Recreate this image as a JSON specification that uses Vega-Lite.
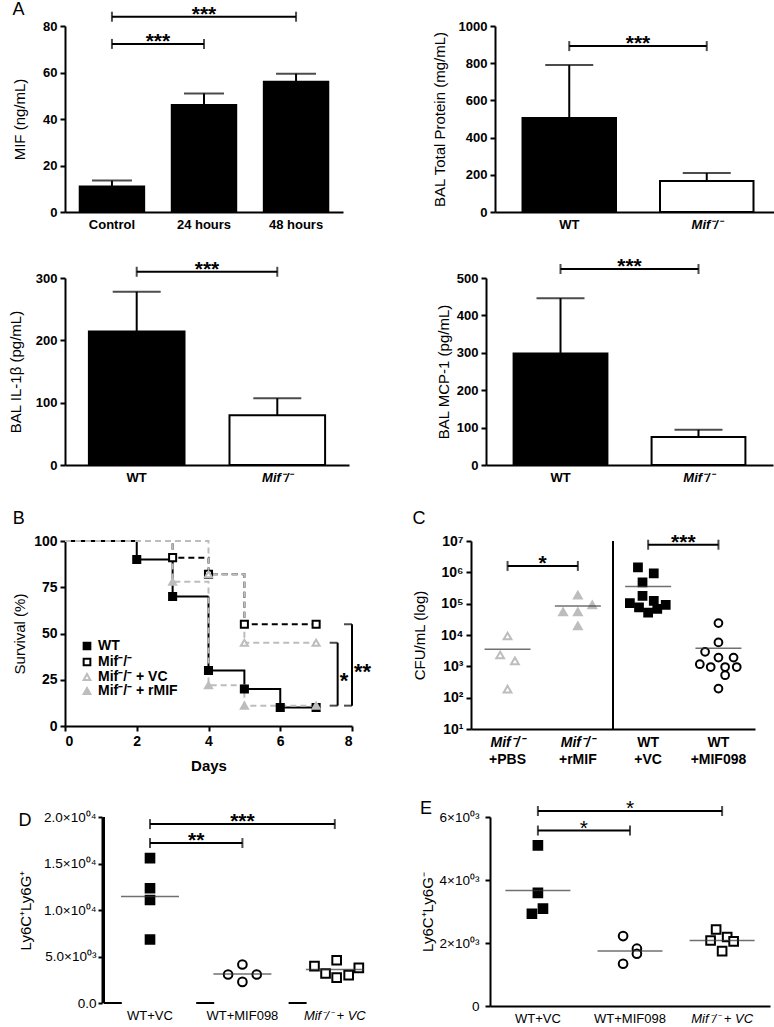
{
"$schema": "https://vega.github.io/schema/vega-lite/v6.json",
"background": "white",
"padding": {"left": 8, "top": 0, "right": 0, "bottom": 0},
"spacing": 25,
"resolve": {"scale": {"xOffset": "independent"}},
"config": {
  "font": "Liberation Sans",
  "view": {"stroke": null},
  "axis": {"domainColor": "black", "domainWidth": 2, "tickColor": "black", "tickWidth": 2, "tickSize": 5, "labelColor": "black", "titleColor": "black", "grid": false, "labelFontWeight": "bold", "labelFontSize": 13, "titleFontSize": 15, "titleFontWeight": "normal", "labelPadding": 3, "titlePadding": 8, "labelOverlap": false},
  "axisX": {"ticks": false, "labelAngle": 0, "labelPadding": 6},
  "title": {"fontSize": 18, "fontWeight": "normal", "anchor": "start", "color": "black"}
},
"vconcat": [
{"spacing": 89, "resolve": {"scale": {"xOffset": "independent"}}, "hconcat": [
 {"title": {"text": "A", "offset": -15},
  "width": 278, "height": 186,
  "layer": [
   {"data": {"values": [{"condition": "Control", "mean": 11, "upper": 13.5}, {"condition": "24 hours", "mean": 46, "upper": 51}, {"condition": "48 hours", "mean": 56, "upper": 59.5}]},
    "encoding": {"x": {"field": "condition", "type": "nominal", "scale": {"domain": ["Control", "24 hours", "48 hours"], "paddingInner": 0.3, "paddingOuter": 0.16}, "axis": {"title": null}}},
    "layer": [
     {"mark": {"type": "rule", "color": "black", "strokeWidth": 2}, "encoding": {"y": {"field": "mean", "type": "quantitative", "scale": {"domain": [0, 80], "nice": false}, "axis": {"title": "MIF (ng/mL)", "values": [0, 20, 40, 60, 80], "titlePadding": 15, "labelOverlap": false}}, "y2": {"field": "upper"}}},
     {"mark": {"type": "tick", "orient": "horizontal", "size": 40, "thickness": 2, "color": "black"}, "encoding": {"y": {"field": "upper", "type": "quantitative", "axis": {"title": "MIF (ng/mL)", "values": [0, 20, 40, 60, 80], "titlePadding": 15, "labelOverlap": false}}}},
     {"mark": {"type": "bar", "fill": "black", "stroke": "black", "strokeWidth": 2}, "encoding": {"y": {"field": "mean", "type": "quantitative", "axis": {"title": "MIF (ng/mL)", "values": [0, 20, 40, 60, 80], "titlePadding": 15, "labelOverlap": false}}}}
    ]},
   {"data": {"values": [{"from": "Control", "to": "48 hours", "y": 84, "label": "***", "span": 2}, {"from": "Control", "to": "24 hours", "y": 72.3, "label": "***", "span": 1}]},
    "encoding": {"y": {"field": "y", "type": "quantitative", "axis": {"title": "MIF (ng/mL)", "values": [0, 20, 40, 60, 80], "titlePadding": 15, "labelOverlap": false}}},
    "layer": [
     {"mark": {"type": "rule", "color": "black", "strokeWidth": 2}, "encoding": {"x": {"field": "from", "type": "nominal"}, "x2": {"field": "to"}}},
     {"transform": [{"fold": ["from", "to"], "as": ["end", "cat"]}], "mark": {"type": "tick", "orient": "vertical", "size": 10, "thickness": 2, "color": "black"}, "encoding": {"x": {"field": "cat", "type": "nominal"}}},
     {"transform": [{"filter": "datum.span == 1"}], "mark": {"type": "text", "fontSize": 21, "fontWeight": "bold", "baseline": "alphabetic", "dy": 4}, "encoding": {"x": {"field": "from", "type": "nominal", "bandPosition": 1.214}, "text": {"field": "label"}}},
     {"transform": [{"filter": "datum.span == 2"}], "mark": {"type": "text", "fontSize": 21, "fontWeight": "bold", "baseline": "alphabetic", "dy": 4}, "encoding": {"x": {"field": "from", "type": "nominal", "bandPosition": 1.929}, "text": {"field": "label"}}}
    ]}
  ]},
 {"width": 286, "height": 186,
  "layer": [
   {"data": {"values": [{"g": "WT", "mean": 505, "upper": 790}, {"g": "Mif⁻/⁻", "mean": 167, "upper": 210}]},
    "encoding": {"x": {"field": "g", "type": "nominal", "scale": {"domain": ["WT", "Mif⁻/⁻"], "paddingInner": 0.32, "paddingOuter": 0.2}, "axis": {"title": null, "labelFontStyle": {"condition": {"test": "indexof(datum.value, 'Mif') >= 0", "value": "italic"}, "value": "normal"}}}},
    "layer": [
     {"mark": {"type": "rule", "color": "black", "strokeWidth": 2}, "encoding": {"y": {"field": "mean", "type": "quantitative", "scale": {"domain": [0, 1000], "nice": false}, "axis": {"title": "BAL Total Protein (mg/mL)", "values": [0, 200, 400, 600, 800, 1000], "format": "d", "titlePadding": 11, "labelOverlap": false}}, "y2": {"field": "upper"}}},
     {"mark": {"type": "tick", "orient": "horizontal", "size": 48, "thickness": 2, "color": "black"}, "encoding": {"y": {"field": "upper", "type": "quantitative", "axis": {"title": "BAL Total Protein (mg/mL)", "values": [0, 200, 400, 600, 800, 1000], "format": "d", "titlePadding": 11, "labelOverlap": false}}}},
     {"mark": {"type": "bar", "stroke": "black", "strokeWidth": 2}, "encoding": {"y": {"field": "mean", "type": "quantitative", "axis": {"title": "BAL Total Protein (mg/mL)", "values": [0, 200, 400, 600, 800, 1000], "format": "d", "titlePadding": 11, "labelOverlap": false}}, "fill": {"condition": {"test": "datum.g == 'WT'", "value": "black"}, "value": "white"}}}
    ]},
   {"data": {"values": [{"from": "WT", "to": "Mif⁻/⁻", "y": 892, "label": "***"}]},
    "encoding": {"y": {"field": "y", "type": "quantitative", "axis": {"title": "BAL Total Protein (mg/mL)", "values": [0, 200, 400, 600, 800, 1000], "format": "d", "titlePadding": 11, "labelOverlap": false}}},
    "layer": [
     {"mark": {"type": "rule", "color": "black", "strokeWidth": 2}, "encoding": {"x": {"field": "from", "type": "nominal"}, "x2": {"field": "to"}}},
     {"transform": [{"fold": ["from", "to"], "as": ["end", "cat"]}], "mark": {"type": "tick", "orient": "vertical", "size": 10, "thickness": 2, "color": "black"}, "encoding": {"x": {"field": "cat", "type": "nominal"}}},
     {"mark": {"type": "text", "fontSize": 21, "fontWeight": "bold", "baseline": "alphabetic", "dy": 4}, "encoding": {"x": {"field": "from", "type": "nominal", "bandPosition": 1.235}, "text": {"field": "label"}}}
    ]}
  ]}
]},
{"spacing": 87, "resolve": {"scale": {"xOffset": "independent"}}, "hconcat": [
 {"width": 284, "height": 187,
  "layer": [
   {"data": {"values": [{"g": "WT", "mean": 214, "upper": 278}, {"g": "Mif⁻/⁻", "mean": 80, "upper": 107}]},
    "encoding": {"x": {"field": "g", "type": "nominal", "scale": {"domain": ["WT", "Mif⁻/⁻"], "paddingInner": 0.32, "paddingOuter": 0.17}, "axis": {"title": null, "labelFontStyle": {"condition": {"test": "indexof(datum.value, 'Mif') >= 0", "value": "italic"}, "value": "normal"}}}},
    "layer": [
     {"mark": {"type": "rule", "color": "black", "strokeWidth": 2}, "encoding": {"y": {"field": "mean", "type": "quantitative", "scale": {"domain": [0, 300], "nice": false}, "axis": {"title": "BAL IL-1β (pg/mL)", "values": [0, 100, 200, 300], "titlePadding": 12, "labelOverlap": false}}, "y2": {"field": "upper"}}},
     {"mark": {"type": "tick", "orient": "horizontal", "size": 48, "thickness": 2, "color": "black"}, "encoding": {"y": {"field": "upper", "type": "quantitative", "axis": {"title": "BAL IL-1β (pg/mL)", "values": [0, 100, 200, 300], "titlePadding": 12, "labelOverlap": false}}}},
     {"mark": {"type": "bar", "stroke": "black", "strokeWidth": 2}, "encoding": {"y": {"field": "mean", "type": "quantitative", "axis": {"title": "BAL IL-1β (pg/mL)", "values": [0, 100, 200, 300], "titlePadding": 12, "labelOverlap": false}}, "fill": {"condition": {"test": "datum.g == 'WT'", "value": "black"}, "value": "white"}}}
    ]},
   {"data": {"values": [{"from": "WT", "to": "Mif⁻/⁻", "y": 310, "label": "***"}]},
    "encoding": {"y": {"field": "y", "type": "quantitative", "axis": {"title": "BAL IL-1β (pg/mL)", "values": [0, 100, 200, 300], "titlePadding": 12, "labelOverlap": false}}},
    "layer": [
     {"mark": {"type": "rule", "color": "black", "strokeWidth": 2}, "encoding": {"x": {"field": "from", "type": "nominal"}, "x2": {"field": "to"}}},
     {"transform": [{"fold": ["from", "to"], "as": ["end", "cat"]}], "mark": {"type": "tick", "orient": "vertical", "size": 10, "thickness": 2, "color": "black"}, "encoding": {"x": {"field": "cat", "type": "nominal"}}},
     {"mark": {"type": "text", "fontSize": 21, "fontWeight": "bold", "baseline": "alphabetic", "dy": 4}, "encoding": {"x": {"field": "from", "type": "nominal", "bandPosition": 1.235}, "text": {"field": "label"}}}
    ]}
  ]},
 {"width": 287, "height": 187,
  "layer": [
   {"data": {"values": [{"g": "WT", "mean": 298, "upper": 446}, {"g": "Mif⁻/⁻", "mean": 75, "upper": 94}]},
    "encoding": {"x": {"field": "g", "type": "nominal", "scale": {"domain": ["WT", "Mif⁻/⁻"], "paddingInner": 0.32, "paddingOuter": 0.2}, "axis": {"title": null, "labelFontStyle": {"condition": {"test": "indexof(datum.value, 'Mif') >= 0", "value": "italic"}, "value": "normal"}}}},
    "layer": [
     {"mark": {"type": "rule", "color": "black", "strokeWidth": 2}, "encoding": {"y": {"field": "mean", "type": "quantitative", "scale": {"domain": [0, 500], "nice": false}, "axis": {"title": "BAL MCP-1 (pg/mL)", "values": [0, 100, 200, 300, 400, 500], "titlePadding": 5, "labelOverlap": false}}, "y2": {"field": "upper"}}},
     {"mark": {"type": "tick", "orient": "horizontal", "size": 48, "thickness": 2, "color": "black"}, "encoding": {"y": {"field": "upper", "type": "quantitative", "axis": {"title": "BAL MCP-1 (pg/mL)", "values": [0, 100, 200, 300, 400, 500], "titlePadding": 5, "labelOverlap": false}}}},
     {"mark": {"type": "bar", "stroke": "black", "strokeWidth": 2}, "encoding": {"y": {"field": "mean", "type": "quantitative", "axis": {"title": "BAL MCP-1 (pg/mL)", "values": [0, 100, 200, 300, 400, 500], "titlePadding": 5, "labelOverlap": false}}, "fill": {"condition": {"test": "datum.g == 'WT'", "value": "black"}, "value": "white"}}}
    ]},
   {"data": {"values": [{"from": "WT", "to": "Mif⁻/⁻", "y": 524, "label": "***"}]},
    "encoding": {"y": {"field": "y", "type": "quantitative", "axis": {"title": "BAL MCP-1 (pg/mL)", "values": [0, 100, 200, 300, 400, 500], "titlePadding": 5, "labelOverlap": false}}},
    "layer": [
     {"mark": {"type": "rule", "color": "black", "strokeWidth": 2}, "encoding": {"x": {"field": "from", "type": "nominal"}, "x2": {"field": "to"}}},
     {"transform": [{"fold": ["from", "to"], "as": ["end", "cat"]}], "mark": {"type": "tick", "orient": "vertical", "size": 10, "thickness": 2, "color": "black"}, "encoding": {"x": {"field": "cat", "type": "nominal"}}},
     {"mark": {"type": "text", "fontSize": 21, "fontWeight": "bold", "baseline": "alphabetic", "dy": 4}, "encoding": {"x": {"field": "from", "type": "nominal", "bandPosition": 1.235}, "text": {"field": "label"}}}
    ]}
  ]}
]},
{"spacing": 40, "resolve": {"scale": {"xOffset": "independent"}}, "hconcat": [
 {"title": {"text": "B", "offset": 6},
  "width": 287, "height": 185,
  "layer": [
   {"data": {"values": [
     {"s": "WT", "day": 0, "surv": 100}, {"s": "WT", "day": 2, "surv": 90}, {"s": "WT", "day": 3, "surv": 70}, {"s": "WT", "day": 4, "surv": 30}, {"s": "WT", "day": 5, "surv": 20}, {"s": "WT", "day": 6, "surv": 10}, {"s": "WT", "day": 7, "surv": 10},
     {"s": "Mif⁻/⁻", "day": 0, "surv": 100}, {"s": "Mif⁻/⁻", "day": 3, "surv": 91}, {"s": "Mif⁻/⁻", "day": 4, "surv": 82}, {"s": "Mif⁻/⁻", "day": 5, "surv": 55}, {"s": "Mif⁻/⁻", "day": 7, "surv": 55},
     {"s": "Mif⁻/⁻ + VC", "day": 0, "surv": 100}, {"s": "Mif⁻/⁻ + VC", "day": 4, "surv": 82}, {"s": "Mif⁻/⁻ + VC", "day": 5, "surv": 45}, {"s": "Mif⁻/⁻ + VC", "day": 7, "surv": 45},
     {"s": "Mif⁻/⁻ + rMIF", "day": 0, "surv": 100}, {"s": "Mif⁻/⁻ + rMIF", "day": 3, "surv": 78}, {"s": "Mif⁻/⁻ + rMIF", "day": 4, "surv": 22}, {"s": "Mif⁻/⁻ + rMIF", "day": 5, "surv": 11}, {"s": "Mif⁻/⁻ + rMIF", "day": 7, "surv": 11}
    ]},
    "layer": [
     {"mark": {"type": "line", "interpolate": "step-after", "strokeWidth": 2},
      "encoding": {
       "x": {"field": "day", "type": "quantitative", "scale": {"domain": [0, 8], "nice": false}, "axis": {"title": "Days", "titleFontWeight": "bold", "titleFontSize": 15, "titlePadding": 10, "values": [0, 2, 4, 6, 8], "ticks": true, "labelPadding": 3, "labelFontSize": 14}},
       "y": {"field": "surv", "type": "quantitative", "scale": {"domain": [0, 100], "nice": false}, "axis": {"title": "Survival (%)", "values": [0, 25, 50, 75, 100], "titlePadding": 6, "labelFontSize": 14}},
       "detail": {"field": "s", "type": "nominal"},
       "stroke": {"condition": {"test": "datum.s == 'WT' || datum.s == 'Mif⁻/⁻'", "value": "black"}, "value": "#bdbdbd"},
       "strokeDash": {"condition": {"test": "datum.s == 'WT'", "value": [1, 0]}, "value": [6, 4]}
      }},
     {"transform": [{"filter": "datum.day > 0"}],
      "mark": {"type": "point", "filled": true, "size": 50, "strokeWidth": 2, "opacity": 1},
      "encoding": {
       "x": {"field": "day", "type": "quantitative"},
       "y": {"field": "surv", "type": "quantitative"},
       "shape": {"field": "s", "type": "nominal", "scale": {"domain": ["WT", "Mif⁻/⁻", "Mif⁻/⁻ + VC", "Mif⁻/⁻ + rMIF"], "range": ["square", "square", "triangle-up", "triangle-up"]}, "legend": {"title": null, "orient": "none", "legendX": 15, "legendY": 613, "labelFontSize": 14, "labelFontWeight": "bold", "symbolStrokeWidth": 2, "symbolSize": 45, "rowPadding": 0, "labelColor": "black"}},
       "fill": {"field": "s", "type": "nominal", "scale": {"domain": ["WT", "Mif⁻/⁻", "Mif⁻/⁻ + VC", "Mif⁻/⁻ + rMIF"], "range": ["black", "white", "white", "#bdbdbd"]}, "legend": {"title": null, "orient": "none", "legendX": 15, "legendY": 613, "labelFontSize": 14, "labelFontWeight": "bold", "symbolStrokeWidth": 2, "symbolSize": 45, "rowPadding": 0, "labelColor": "black"}},
       "stroke": {"field": "s", "type": "nominal", "scale": {"domain": ["WT", "Mif⁻/⁻", "Mif⁻/⁻ + VC", "Mif⁻/⁻ + rMIF"], "range": ["black", "black", "#bdbdbd", "#bdbdbd"]}, "legend": {"title": null, "orient": "none", "legendX": 15, "legendY": 613, "labelFontSize": 14, "labelFontWeight": "bold", "symbolStrokeWidth": 2, "symbolSize": 45, "rowPadding": 0, "labelColor": "black"}}
      }}
    ]},
   {"data": {"values": [{"x": 7.6, "top": 45, "bottom": 11, "label": "*"}, {"x": 8.0, "top": 55, "bottom": 11, "label": "**"}]},
    "layer": [
     {"mark": {"type": "rule", "color": "black", "strokeWidth": 2}, "encoding": {"x": {"field": "x", "type": "quantitative"}, "y": {"field": "top", "type": "quantitative"}, "y2": {"field": "bottom"}}},
     {"transform": [{"fold": ["top", "bottom"], "as": ["end", "yv"]}], "mark": {"type": "tick", "orient": "horizontal", "size": 8, "thickness": 2, "color": "black", "xOffset": -4}, "encoding": {"x": {"field": "x", "type": "quantitative"}, "y": {"field": "yv", "type": "quantitative"}}},
     {"transform": [{"calculate": "(datum.top + datum.bottom) / 2", "as": "mid"}], "mark": {"type": "text", "fontSize": 22, "fontWeight": "bold", "align": "left", "baseline": "middle", "dx": 2, "dy": 7}, "encoding": {"x": {"field": "x", "type": "quantitative"}, "y": {"field": "mid", "type": "quantitative"}, "text": {"field": "label"}}}
    ]}
  ]},
 {"title": {"text": "C", "offset": 4},
  "width": 284, "height": 188,
  "layer": [
   {"layer": [
     {"data": {"values": [
       {"cat": "PBS", "cfu": 9300, "jitter": 0}, {"cat": "PBS", "cfu": 2300, "jitter": -0.21}, {"cat": "PBS", "cfu": 1500, "jitter": 0.21}, {"cat": "PBS", "cfu": 186, "jitter": 0},
       {"cat": "rMIF", "cfu": 186000, "jitter": 0}, {"cat": "rMIF", "cfu": 55000, "jitter": -0.42}, {"cat": "rMIF", "cfu": 55000, "jitter": 0}, {"cat": "rMIF", "cfu": 91000, "jitter": 0.41}, {"cat": "rMIF", "cfu": 19500, "jitter": 0},
       {"cat": "VC", "cfu": 1450000, "jitter": -0.29}, {"cat": "VC", "cfu": 930000, "jitter": 0.16}, {"cat": "VC", "cfu": 480000, "jitter": -0.16}, {"cat": "VC", "cfu": 178000, "jitter": -0.16}, {"cat": "VC", "cfu": 105000, "jitter": -0.52}, {"cat": "VC", "cfu": 76000, "jitter": -0.26}, {"cat": "VC", "cfu": 123000, "jitter": 0.16}, {"cat": "VC", "cfu": 91000, "jitter": 0.5}, {"cat": "VC", "cfu": 52000, "jitter": 0}, {"cat": "VC", "cfu": 68000, "jitter": 0.26},
       {"cat": "MIF098", "cfu": 24000, "jitter": 0}, {"cat": "MIF098", "cfu": 5800, "jitter": 0}, {"cat": "MIF098", "cfu": 2900, "jitter": -0.38}, {"cat": "MIF098", "cfu": 1900, "jitter": 0}, {"cat": "MIF098", "cfu": 1900, "jitter": 0.43}, {"cat": "MIF098", "cfu": 1170, "jitter": -0.53}, {"cat": "MIF098", "cfu": 950, "jitter": -0.22}, {"cat": "MIF098", "cfu": 950, "jitter": 0.19}, {"cat": "MIF098", "cfu": 950, "jitter": 0.52}, {"cat": "MIF098", "cfu": 520, "jitter": 0.19}, {"cat": "MIF098", "cfu": 195, "jitter": 0}
      ]},
      "mark": {"type": "point", "filled": true, "size": 60, "strokeWidth": 2, "opacity": 1},
      "encoding": {
       "x": {"field": "cat", "type": "nominal", "scale": {"domain": ["PBS", "rMIF", "VC", "MIF098"], "paddingInner": 0, "paddingOuter": 0.02}, "axis": {"title": null, "labelExpr": "datum.value == 'PBS' || datum.value == 'rMIF' ? 'Mif⁻/⁻' : 'WT'", "labelFontStyle": {"condition": {"test": "datum.value == 'PBS' || datum.value == 'rMIF'", "value": "italic"}, "value": "normal"}, "labelFontSize": 14}},
       "xOffset": {"field": "jitter", "type": "quantitative", "scale": {"domain": [-1, 1]}},
       "y": {"field": "cfu", "type": "quantitative", "scale": {"type": "log", "domain": [10, 10000000], "nice": false}, "axis": {"title": "CFU/mL (log)", "values": [10, 100, 1000, 10000, 100000, 1000000, 10000000], "labelExpr": "'10' + ['⁰','¹','²','³','⁴','⁵','⁶','⁷'][round(log(datum.value) / LN10)]", "labelFontSize": 14, "titlePadding": 13}},
       "shape": {"condition": [{"test": "datum.cat == 'VC'", "value": "square"}, {"test": "datum.cat == 'MIF098'", "value": "circle"}], "value": "triangle-up"},
       "fill": {"condition": [{"test": "datum.cat == 'rMIF'", "value": "#bdbdbd"}, {"test": "datum.cat == 'VC'", "value": "black"}], "value": "white"},
       "stroke": {"condition": [{"test": "datum.cat == 'PBS' || datum.cat == 'rMIF'", "value": "#bdbdbd"}], "value": "black"}
      }},
     {"data": {"values": [{"cat": "PBS", "mean": 3500}, {"cat": "rMIF", "mean": 85000}, {"cat": "VC", "mean": 350000}, {"cat": "MIF098", "mean": 3800}]},
      "mark": {"type": "tick", "orient": "horizontal", "size": 46, "thickness": 1.5, "color": "#333333"},
      "encoding": {"x": {"field": "cat", "type": "nominal"}, "y": {"field": "mean", "type": "quantitative"}}},
     {"data": {"values": [{"from": "PBS", "to": "rMIF", "y": 1600000, "label": "*"}, {"from": "VC", "to": "MIF098", "y": 7600000, "label": "***"}]},
      "layer": [
       {"mark": {"type": "rule", "color": "black", "strokeWidth": 2}, "encoding": {"x": {"field": "from", "type": "nominal"}, "x2": {"field": "to"}, "y": {"field": "y", "type": "quantitative"}}},
       {"transform": [{"fold": ["from", "to"], "as": ["end", "cat"]}], "mark": {"type": "tick", "orient": "vertical", "size": 10, "thickness": 2, "color": "black"}, "encoding": {"x": {"field": "cat", "type": "nominal"}, "y": {"field": "y", "type": "quantitative"}}},
       {"mark": {"type": "text", "fontSize": 21, "fontWeight": "bold", "baseline": "alphabetic", "dy": 4}, "encoding": {"x": {"field": "from", "type": "nominal", "bandPosition": 1.0}, "y": {"field": "y", "type": "quantitative"}, "text": {"field": "label"}}}
      ]}
    ]},
   {"data": {"values": [{"cat": "VC"}]},
    "mark": {"type": "rule", "color": "black", "strokeWidth": 2},
    "encoding": {"x": {"field": "cat", "type": "nominal", "bandPosition": 0, "axis": {"orient": "bottom", "title": null, "domain": false, "ticks": false, "labelPadding": 23, "labelExpr": "'+' + datum.value", "labelFontSize": 14}}}}
  ],
  "resolve": {"axis": {"x": "independent"}}}
]},
{"spacing": 39, "resolve": {"scale": {"xOffset": "independent"}}, "hconcat": [
 {"title": {"text": "D", "offset": -20},
  "width": 316, "height": 186,
  "layer": [
   {"data": {"values": [
     {"g": "WT+VC", "v": 15580, "jitter": 0}, {"g": "WT+VC", "v": 12340, "jitter": 0}, {"g": "WT+VC", "v": 11080, "jitter": 0}, {"g": "WT+VC", "v": 6830, "jitter": 0},
     {"g": "WT+MIF098", "v": 3060, "jitter": -0.31}, {"g": "WT+MIF098", "v": 4140, "jitter": 0}, {"g": "WT+MIF098", "v": 3060, "jitter": 0.31}, {"g": "WT+MIF098", "v": 2270, "jitter": 0},
     {"g": "Mif⁻/⁻ + VC", "v": 3960, "jitter": -0.44}, {"g": "Mif⁻/⁻ + VC", "v": 3170, "jitter": -0.2}, {"g": "Mif⁻/⁻ + VC", "v": 4600, "jitter": 0.04}, {"g": "Mif⁻/⁻ + VC", "v": 2730, "jitter": 0.04}, {"g": "Mif⁻/⁻ + VC", "v": 2990, "jitter": 0.3}, {"g": "Mif⁻/⁻ + VC", "v": 3780, "jitter": 0.52}
    ]},
    "mark": {"type": "point", "filled": true, "size": 75, "strokeWidth": 2, "opacity": 1},
    "encoding": {
     "x": {"field": "g", "type": "nominal", "scale": {"domain": ["WT+VC", "WT+MIF098", "Mif⁻/⁻ + VC"], "paddingInner": 0, "paddingOuter": 0.21, "align": 1}, "axis": {"title": null, "domain": false, "labelFontWeight": "normal", "labelFontSize": 13, "labelFontStyle": {"condition": {"test": "indexof(datum.value, 'Mif⁻') >= 0", "value": "italic"}, "value": "normal"}}},
     "xOffset": {"field": "jitter", "type": "quantitative", "scale": {"domain": [-1, 1]}},
     "y": {"field": "v", "type": "quantitative", "scale": {"domain": [0, 20000], "nice": false}, "axis": {"title": "Ly6C⁺Ly6G⁺", "offset": -37, "titleFontSize": 15, "titlePadding": 10, "labelFontWeight": "normal", "labelFontSize": 13.5, "tickSize": 4, "labelPadding": 2, "values": [0, 5000, 10000, 15000, 20000], "labelExpr": "datum.value == 0 ? '0.0' : (datum.value < 10000 ? format(datum.value / 1000, '.1f') + '×10⁰³' : format(datum.value / 10000, '.1f') + '×10⁰⁴')"}},
     "shape": {"condition": [{"test": "datum.g == 'WT+MIF098'", "value": "circle"}], "value": "square"},
     "fill": {"condition": [{"test": "datum.g == 'WT+VC'", "value": "black"}], "value": "white"},
     "stroke": {"value": "black"}
    }},
   {"data": {"values": [{"g": "WT+VC", "mean": 11440}, {"g": "WT+MIF098", "mean": 3130}, {"g": "Mif⁻/⁻ + VC", "mean": 3600}]},
    "layer": [
     {"mark": {"type": "tick", "orient": "horizontal", "size": 58, "thickness": 1.5, "color": "#333333"},
      "encoding": {"x": {"field": "g", "type": "nominal"}, "y": {"field": "mean", "type": "quantitative"}}},
     {"mark": {"type": "bar", "fill": "black", "stroke": "black", "strokeWidth": 2},
      "encoding": {"x": {"field": "g", "type": "nominal"}, "y": {"datum": 0, "type": "quantitative"}, "y2": {"datum": 0}}},
     {"mark": {"type": "rule", "color": "black", "strokeWidth": 2},
      "encoding": {"x": {"datum": "WT+VC", "type": "nominal", "bandPosition": 0}, "y": {"datum": 0, "type": "quantitative"}, "y2": {"datum": 20000}}}
    ]},
   {"data": {"values": [{"from": "WT+VC", "to": "Mif⁻/⁻ + VC", "y": 19240, "label": "***", "span": 2}, {"from": "WT+VC", "to": "WT+MIF098", "y": 17200, "label": "**", "span": 1}]},
    "layer": [
     {"mark": {"type": "rule", "color": "black", "strokeWidth": 2}, "encoding": {"x": {"field": "from", "type": "nominal"}, "x2": {"field": "to"}, "y": {"field": "y", "type": "quantitative"}}},
     {"transform": [{"fold": ["from", "to"], "as": ["end", "cat"]}], "mark": {"type": "tick", "orient": "vertical", "size": 10, "thickness": 2, "color": "black"}, "encoding": {"x": {"field": "cat", "type": "nominal"}, "y": {"field": "y", "type": "quantitative"}}},
     {"transform": [{"filter": "datum.span == 1"}], "mark": {"type": "text", "fontSize": 21, "fontWeight": "bold", "baseline": "alphabetic", "dy": 4}, "encoding": {"x": {"field": "from", "type": "nominal", "bandPosition": 1.0}, "y": {"field": "y", "type": "quantitative"}, "text": {"field": "label"}}},
     {"transform": [{"filter": "datum.span == 2"}], "mark": {"type": "text", "fontSize": 21, "fontWeight": "bold", "baseline": "alphabetic", "dy": 4}, "encoding": {"x": {"field": "from", "type": "nominal", "bandPosition": 1.5}, "y": {"field": "y", "type": "quantitative"}, "text": {"field": "label"}}}
    ]}
  ]},
 {"title": {"text": "E", "offset": -20},
  "width": 280, "height": 189,
  "layer": [
   {"data": {"values": [
     {"g": "WT+VC", "v": 5100, "jitter": 0}, {"g": "WT+VC", "v": 3590, "jitter": 0}, {"g": "WT+VC", "v": 3090, "jitter": 0.11}, {"g": "WT+VC", "v": 2930, "jitter": -0.13},
     {"g": "WT+MIF098", "v": 2220, "jitter": -0.15}, {"g": "WT+MIF098", "v": 1820, "jitter": 0.15}, {"g": "WT+MIF098", "v": 1660, "jitter": 0.15}, {"g": "WT+MIF098", "v": 1340, "jitter": -0.15},
     {"g": "Mif⁻/⁻ + VC", "v": 2430, "jitter": -0.13}, {"g": "Mif⁻/⁻ + VC", "v": 2080, "jitter": -0.25}, {"g": "Mif⁻/⁻ + VC", "v": 2190, "jitter": 0.11}, {"g": "Mif⁻/⁻ + VC", "v": 2050, "jitter": 0.25}, {"g": "Mif⁻/⁻ + VC", "v": 1740, "jitter": 0}
    ]},
    "mark": {"type": "point", "filled": true, "size": 75, "strokeWidth": 2, "opacity": 1},
    "encoding": {
     "x": {"field": "g", "type": "nominal", "scale": {"domain": ["WT+VC", "WT+MIF098", "Mif⁻/⁻ + VC"], "paddingInner": 0, "paddingOuter": 0.02}, "axis": {"title": null, "labelFontWeight": "normal", "labelFontSize": 13, "labelFontStyle": {"condition": {"test": "indexof(datum.value, 'Mif⁻') >= 0", "value": "italic"}, "value": "normal"}}},
     "xOffset": {"field": "jitter", "type": "quantitative", "scale": {"domain": [-1, 1]}},
     "y": {"field": "v", "type": "quantitative", "scale": {"domain": [0, 6000], "nice": false}, "axis": {"title": "Ly6C⁺Ly6G⁻", "titleFontSize": 15, "titlePadding": 4, "labelFontWeight": "normal", "labelFontSize": 13.5, "tickSize": 5, "labelPadding": 6, "values": [0, 2000, 4000, 6000], "labelExpr": "datum.value == 0 ? '0' : format(datum.value / 1000, 'd') + '×10⁰³'"}},
     "shape": {"condition": [{"test": "datum.g == 'WT+MIF098'", "value": "circle"}], "value": "square"},
     "fill": {"condition": [{"test": "datum.g == 'WT+VC'", "value": "black"}], "value": "white"},
     "stroke": {"value": "black"}
    }},
   {"data": {"values": [{"g": "WT+VC", "mean": 3670}, {"g": "WT+MIF098", "mean": 1750}, {"g": "Mif⁻/⁻ + VC", "mean": 2080}]},
    "mark": {"type": "tick", "orient": "horizontal", "size": 65, "thickness": 1.5, "color": "#333333"},
    "encoding": {"x": {"field": "g", "type": "nominal"}, "y": {"field": "mean", "type": "quantitative"}}},
   {"data": {"values": [{"from": "WT+VC", "to": "Mif⁻/⁻ + VC", "y": 6190, "label": "*", "span": 2}, {"from": "WT+VC", "to": "WT+MIF098", "y": 5570, "label": "*", "span": 1}]},
    "layer": [
     {"mark": {"type": "rule", "color": "black", "strokeWidth": 2}, "encoding": {"x": {"field": "from", "type": "nominal"}, "x2": {"field": "to"}, "y": {"field": "y", "type": "quantitative"}}},
     {"transform": [{"fold": ["from", "to"], "as": ["end", "cat"]}], "mark": {"type": "tick", "orient": "vertical", "size": 10, "thickness": 2, "color": "black"}, "encoding": {"x": {"field": "cat", "type": "nominal"}, "y": {"field": "y", "type": "quantitative"}}},
     {"transform": [{"filter": "datum.span == 1"}], "mark": {"type": "text", "fontSize": 21, "fontWeight": "normal", "baseline": "alphabetic", "dy": 4}, "encoding": {"x": {"field": "from", "type": "nominal", "bandPosition": 1.0}, "y": {"field": "y", "type": "quantitative"}, "text": {"field": "label"}}},
     {"transform": [{"filter": "datum.span == 2"}], "mark": {"type": "text", "fontSize": 21, "fontWeight": "normal", "baseline": "alphabetic", "dy": 4}, "encoding": {"x": {"field": "from", "type": "nominal", "bandPosition": 1.5}, "y": {"field": "y", "type": "quantitative"}, "text": {"field": "label"}}}
    ]}
  ]}
]}
]
}
